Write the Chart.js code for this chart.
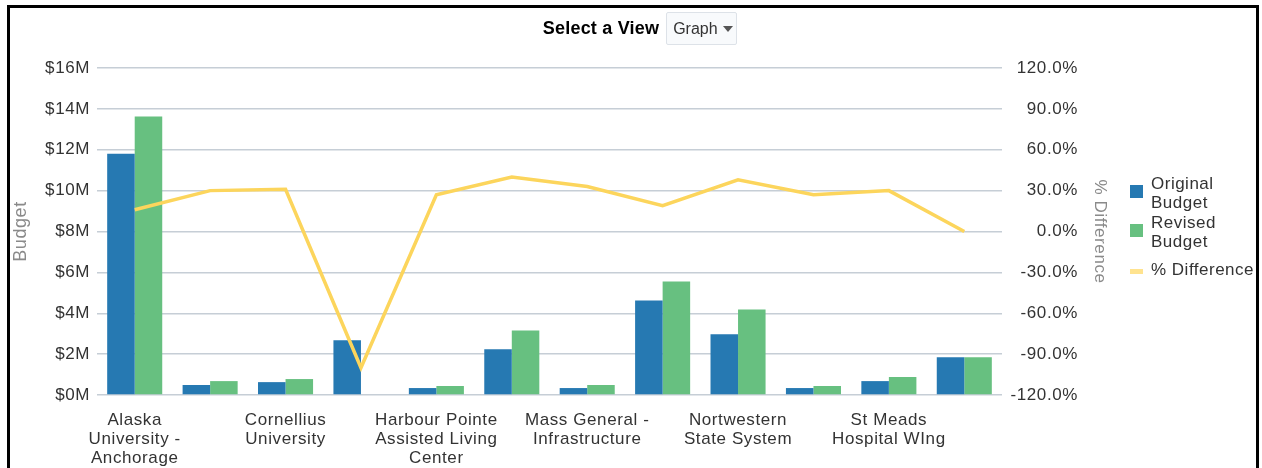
<!DOCTYPE html>
<html lang="en">
<head>
  <meta charset="UTF-8">
  <title>Budget by Project</title>
  <script src="https://cdn.jsdelivr.net/npm/chart.js"></script>
  <style>
    body { margin: 0; font-family: "Liberation Sans", Arial, sans-serif; background: #fff; }
    #frame {
      position: absolute; left: 7px; top: 5px; width: 1246px; height: 500px;
      border: 3px solid #000; background: #fff;
    }
    #header {
      position: absolute; left: 0; top: 12px; width: 1262px; z-index: 2;
      display: flex; justify-content: center; align-items: center; padding-left: 18px; box-sizing: border-box;
    }
    #header .lbl { font-weight: bold; font-size: 18px; color: #000; margin-right: 7px; letter-spacing: 0.2px; }
    #header .sel {
      height: 33px; width: 71px; box-sizing: border-box; border: 1px solid #dde2e8; border-radius: 2px;
      background: #f8fafc; font-size: 16px; color: #333; display: flex; align-items: center; padding-left: 6px;
    }
    #header .caret {
      width: 0; height: 0; margin-left: 5px; border-left: 5px solid transparent; border-right: 5px solid transparent;
      border-top: 6px solid #555;
    }
    .chart-box { position: absolute; left: 0; top: 0; width: 1262px; height: 468px; z-index: 1; }
    #legend { position: absolute; left: 1130px; top: 174px; z-index: 2; font-size: 17px; color: #333; letter-spacing: 0.5px; }
    #legend .item { display: flex; align-items: flex-start; margin-bottom: 1px; }
    #legend .sw { width: 13px; height: 13px; margin-right: 8px; margin-top: 11px; flex: none; }
    #legend .txt { line-height: 19px; }
    #legend .ln { width: 13px; height: 5px; margin-right: 8px; margin-top: 17px; background: #ffe38f; flex: none; }
    #legend .item.last .txt { margin-top: 8px; }
  </style>
</head>
<body>
  <div id="frame"></div>
  <div id="header"><span class="lbl">Select a View</span><span class="sel">Graph<span class="caret"></span></span></div>
  <div class="chart-box"><canvas id="budgetChart"></canvas></div>
  <div id="legend"></div>

  <script>
    // categories (only every other name is printed on the axis)
    const projects = [
      ['Alaska', 'University -', 'Anchorage'], '',
      ['Cornellius', 'University'], '',
      ['Harbour Pointe', 'Assisted Living', 'Center'], '',
      ['Mass General -', 'Infrastructure'], '',
      ['Nortwestern', 'State System'], '',
      ['St Meads', 'Hospital WIng'], ''
    ];
    // budgets in $M
    const originalBudget = [11.8, 0.49, 0.63, 2.68, 0.34, 2.24, 0.34, 4.62, 2.97, 0.34, 0.68, 1.85];
    const revisedBudget  = [13.63, 0.68, 0.78, 0, 0.44, 3.16, 0.49, 5.55, 4.18, 0.44, 0.88, 1.85];
    // percent difference
    const pctDifference  = [16, 30, 31, -100, 27, 40, 33, 19, 38, 27, 30, 0];

    const budgetTicks = [0, 2, 4, 6, 8, 10, 12, 14, 16];
    const pctTicks = [-120, -90, -60, -30, 0, 30, 60, 90, 120];

    const BLUE = '#2679b2';
    const GREEN = '#67c080';
    const YELLOW = '#fcd55c';
    const tickFont = { family: '"Liberation Sans", Arial, sans-serif', size: 17 };

    const spacing = {
      id: 'spacing',
      beforeUpdate(chart) { chart.ctx.letterSpacing = '0.6px'; },
      beforeDraw(chart) { chart.ctx.letterSpacing = '0.6px'; }
    };

    const ctx = document.getElementById('budgetChart').getContext('2d');
    const chart = new Chart(ctx, {
      type: 'bar',
      data: {
        labels: projects,
        datasets: [
          {
            type: 'line', label: '% Difference', data: pctDifference, yAxisID: 'y1',
            borderColor: YELLOW, borderWidth: 3.5, pointRadius: 0, tension: 0, order: 0
          },
          { label: 'Original Budget', data: originalBudget, backgroundColor: BLUE, yAxisID: 'y', order: 1 },
          { label: 'Revised Budget', data: revisedBudget, backgroundColor: GREEN, yAxisID: 'y', order: 1 }
        ]
      },
      options: {
        responsive: true,
        maintainAspectRatio: false,
        animation: false,
        categoryPercentage: 0.73,
        barPercentage: 1.0,
        layout: { padding: { top: 68, right: 184, left: 0, bottom: 0 } },
        plugins: { legend: { display: false }, tooltip: { enabled: false } },
        scales: {
          x: {
            grid: { display: false, drawTicks: false },
            border: { display: false },
            ticks: {
              autoSkip: false, maxRotation: 0, minRotation: 0, padding: 16, color: '#333',
              font: { ...tickFont, lineHeight: 1.12 }
            },
            afterFit(scale) { scale.height = 73; }
          },
          y: {
            position: 'left', min: 0, max: 16,
            afterBuildTicks(scale) { scale.ticks = budgetTicks.map(v => ({ value: v })); },
            grid: { color: '#c6ced6', lineWidth: 1.5, drawTicks: false },
            border: { display: false },
            ticks: { padding: 7, color: '#333', font: tickFont, callback: v => '$' + v + 'M' },
            title: { display: true, text: 'Budget', color: '#8a8a8a', font: { size: 18 }, padding: { top: 10 } },
            afterFit(scale) { scale.width = 97; }
          },
          y1: {
            position: 'right', min: -120, max: 120,
            afterBuildTicks(scale) { scale.ticks = pctTicks.map(v => ({ value: v })); },
            grid: { display: false, drawTicks: false },
            border: { display: false },
            // 'far' puts the right edge of the labels at the scale's right side
            ticks: { padding: 6, crossAlign: 'far', color: '#333', font: tickFont, callback: v => v.toFixed(1) + '%' },
            title: { display: true, text: '% Difference', color: '#8a8a8a', font: { size: 17 }, padding: { top: -32 } },
            afterFit(scale) { scale.width = 76; }
          }
        }
      },
      plugins: [spacing]
    });

    // legend with wrapped names, as in the original
    const legendItems = [
      { kind: 'sw', color: BLUE, text: 'Original<br>Budget' },
      { kind: 'sw', color: GREEN, text: 'Revised<br>Budget' },
      { kind: 'ln', color: '#ffe38f', text: '% Difference' }
    ];
    const legendEl = document.getElementById('legend');
    legendItems.forEach((it, i) => {
      const row = document.createElement('div');
      row.className = 'item' + (i === legendItems.length - 1 ? ' last' : '');
      const mark = document.createElement('span');
      mark.className = it.kind;
      mark.style.background = it.color;
      const txt = document.createElement('span');
      txt.className = 'txt';
      txt.innerHTML = it.text;
      row.appendChild(mark);
      row.appendChild(txt);
      legendEl.appendChild(row);
    });
  </script>
</body>
</html>
